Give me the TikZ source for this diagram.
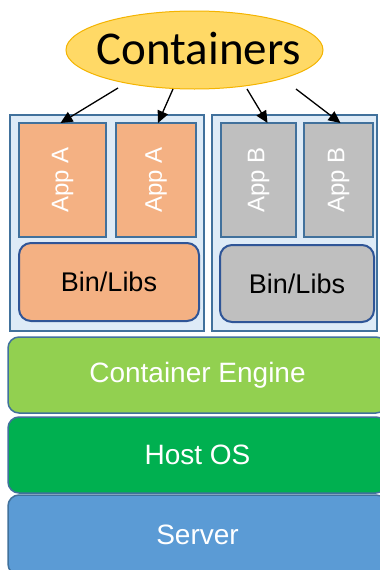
\documentclass[tikz,border=0pt]{standalone}
\usepackage{fontspec}
\setmainfont{Liberation Sans}
\newfontfamily\calibri{Carlito}
\usetikzlibrary{shapes.geometric,arrows.meta,calc}
\definecolor{boxblue}{HTML}{DEEBF7}
\definecolor{edgeblue}{HTML}{41719C}
\definecolor{darkedge}{HTML}{2F5597}
\definecolor{appA}{HTML}{F4B183}
\definecolor{appB}{HTML}{BFBFBF}
\definecolor{engine}{HTML}{92D050}
\definecolor{hostos}{HTML}{00B050}
\definecolor{server}{HTML}{5B9BD5}
\definecolor{gold}{HTML}{FFD966}
\definecolor{goldedge}{HTML}{F4B400}
\begin{document}
\begin{tikzpicture}[x=1pt,y=-1pt,
  base/.style={rectangle, inner sep=0pt, outer sep=0pt},
  outerbox/.style={base, draw=edgeblue, fill=boxblue, line width=2pt},
  appbox/.style={base, draw=edgeblue, line width=2pt, text=white, font=\fontsize{24}{26}\selectfont},
  libbox/.style={base, rounded corners=12pt, draw=darkedge, line width=2pt, font=\fontsize{27}{30}\selectfont},
  layer/.style={base, rounded corners=11pt, draw=edgeblue, line width=1.5pt, text=white, font=\fontsize{28}{30}\selectfont},
  arr/.style={line width=1.3pt, -{Triangle[length=12pt,width=11pt]}}]
\useasboundingbox (0,0) rectangle (380,570);
\clip (0,0) rectangle (380,570);
\fill[white] (0,0) rectangle (380,570);
% ellipse
\node[ellipse, draw=goldedge, line width=1pt, fill=gold, minimum width=257pt, minimum height=78pt, inner sep=0pt] (cont) at (194.5,50) {};
\node[font=\calibri\fontsize{47}{50}\selectfont, inner sep=0pt] (contlabel) at (199,49) {Containers};
% outer boxes
\node[outerbox, minimum width=194pt, minimum height=216pt] (L) at (107,223) {};
\node[outerbox, minimum width=165pt, minimum height=216pt] (R) at (294.5,223) {};
% apps
\node[appbox, fill=appA, minimum width=87pt, minimum height=114pt] (a1) at (62.5,180) {\rotatebox{90}{App A}};
\node[appbox, fill=appA, minimum width=80pt, minimum height=114pt] (a2) at (156,180) {\rotatebox{90}{App A}};
\node[appbox, fill=appB, minimum width=75pt, minimum height=114pt] (b1) at (258.5,180) {\rotatebox{90}{App B}};
\node[appbox, fill=appB, minimum width=69pt, minimum height=114pt] (b2) at (338.5,180) {\rotatebox{90}{App B}};
% libs
\node[libbox, fill=appA, minimum width=180pt, minimum height=78pt] (libA) at (109,282) {Bin/Libs};
\node[libbox, fill=appB, minimum width=154pt, minimum height=77pt] (libB) at (297,283.5) {Bin/Libs};
% layers
\node[layer, fill=engine, minimum width=379pt, minimum height=76pt] (eng) at (197.5,375) {Container Engine};
\node[layer, fill=hostos, minimum width=379pt, minimum height=76pt] (os) at (197.5,455) {Host OS};
\node[layer, fill=server, minimum width=379pt, minimum height=80pt] (srv) at (197.5,535) {Server};
% arrows
\coordinate (s1) at (118,88);
\coordinate (s2) at (173,89);
\coordinate (s3) at (247,89);
\coordinate (s4) at (296,89);
\draw[arr] (s1) -- ($(a1.north)+(-2,0)$);
\draw[arr] (s2) -- ($(a2.north)+(2,0)$);
\draw[arr] (s3) -- ($(b1.north)+(9,0)$);
\draw[arr] (s4) -- ($(b2.north)+(2,0)$);
\end{tikzpicture}
\end{document}
